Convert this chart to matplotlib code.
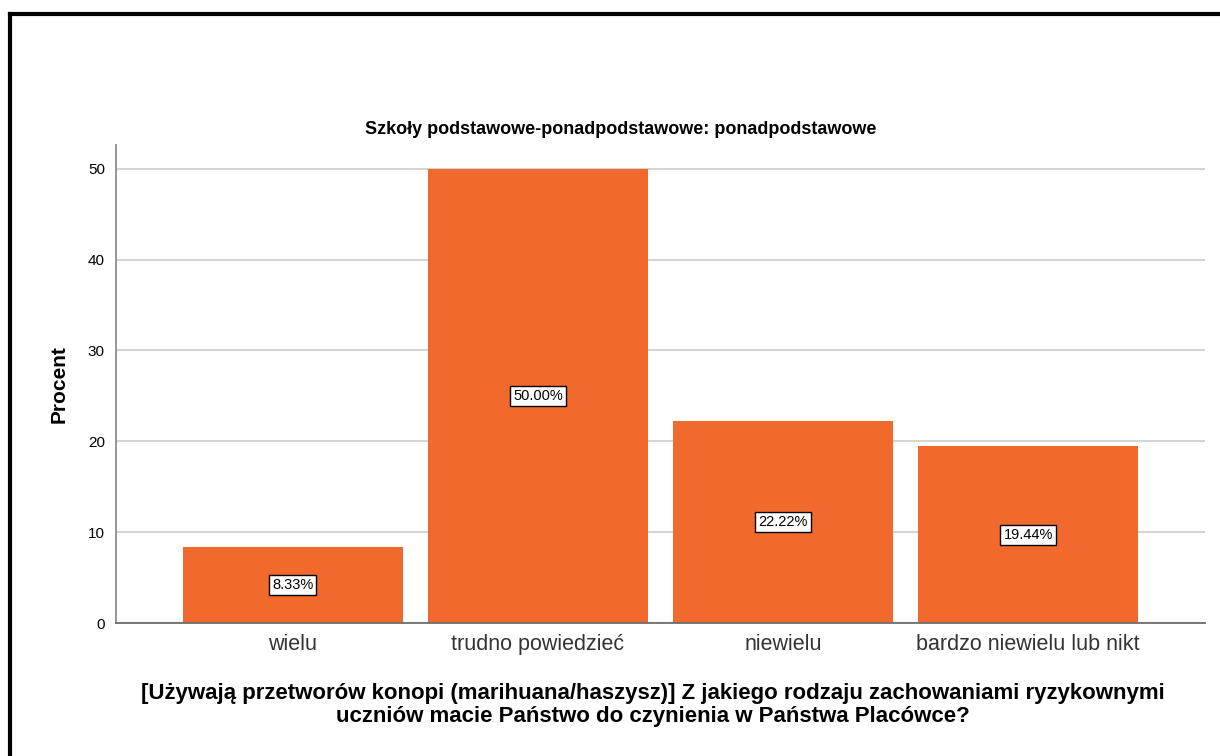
import matplotlib
matplotlib.use("Agg")
import matplotlib.pyplot as plt
from matplotlib.lines import Line2D

kategorie = ["wielu", "trudno powiedzieć", "niewielu", "bardzo niewielu lub nikt"]
procenty = [8.33, 50.00, 22.22, 19.44]
y_ticki = [0, 10, 20, 30, 40, 50]

tytul = "Szkoły podstawowe-ponadpodstawowe: ponadpodstawowe"
opis_x = ("[Używają przetworów konopi (marihuana/haszysz)] Z jakiego rodzaju zachowaniami ryzykownymi\n"
          "uczniów macie Państwo do czynienia w Państwa Placówce?")

plt.rcParams["font.family"] = ["Liberation Sans", "DejaVu Sans"]

W, H = 1220, 756
fig = plt.figure(figsize=(12.2, 7.56), dpi=100)
ax = fig.add_axes([0.0951, 0.1759, 0.8926, 0.6323])

x = list(range(len(kategorie)))
ax.bar(x, procenty, width=0.898, color="#F2692E", zorder=2)

for xi, val in zip(x, procenty):
    ax.text(xi, val / 2, f"{val:.2f}%", ha="center", va="center", fontsize=10.5, color="black",
            bbox=dict(boxstyle="square,pad=0.2", facecolor="white", edgecolor="black", linewidth=1),
            zorder=3)

ax.set_xlim(-0.722, 3.722)
ax.set_ylim(0, 52.6)
ax.set_yticks(y_ticki)
ax.set_xticks(x)
ax.set_xticklabels(kategorie, fontsize=15.5, color="#333333")
ax.tick_params(axis="y", length=0, labelsize=11, pad=8)
ax.tick_params(axis="x", length=0, pad=8)
ax.yaxis.grid(True, color="#D4D4D4", linewidth=1.5, zorder=0)
ax.set_axisbelow(True)

for s in ["top", "right"]:
    ax.spines[s].set_visible(False)
ax.spines["left"].set_color("#8C8C8C")
ax.spines["bottom"].set_color("#6E6E6E")
ax.spines["left"].set_linewidth(1.3)
ax.spines["bottom"].set_linewidth(1.3)

ax.set_ylabel("Procent", fontsize=15, fontweight="bold", labelpad=14)
ax.set_xlabel(opis_x, fontsize=16, fontweight="bold", labelpad=20, linespacing=1.12)
ax.xaxis.label.set_x(0.493)

# tytul wysrodkowany wzgledem calego rysunku, nie osi
fig.text(621 / W, 1 - 129 / H, tytul, ha="center", va="center", fontsize=13, fontweight="bold")

# ramka (tylko lewa i gorna krawedz widoczna)
fig.add_artist(Line2D([10 / W, 10 / W], [0, 1 - 14 / H], color="black", linewidth=3,
                      transform=fig.transFigure))
fig.add_artist(Line2D([10 / W, 1], [1 - 14 / H, 1 - 14 / H], color="black", linewidth=3,
                      transform=fig.transFigure))

plt.savefig("out.png", dpi=100)
